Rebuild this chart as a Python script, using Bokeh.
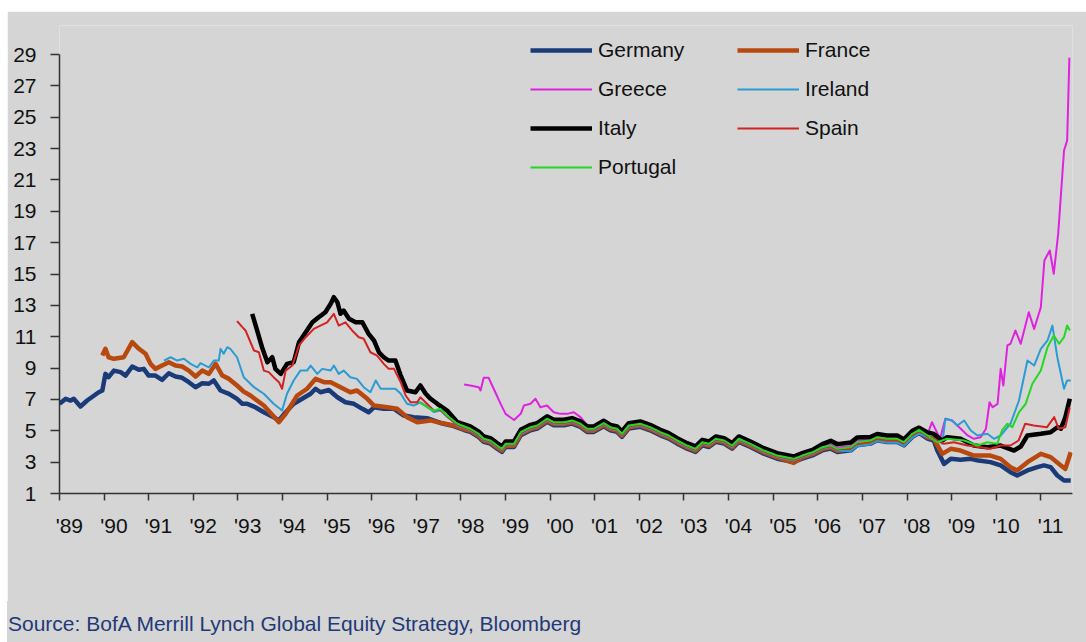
from bokeh.plotting import figure
from bokeh.models import Range1d, FixedTicker, Legend, LegendItem, CustomJSTickFormatter, Div
from bokeh.layouts import column
from bokeh.embed import file_html
from bokeh.resources import INLINE

# ---------------- data ----------------
years = list(range(1989, 2012))
year_labels = ["'89", "'90", "'91", "'92", "'93", "'94", "'95", "'96", "'97", "'98", "'99", "'00",
               "'01", "'02", "'03", "'04", "'05", "'06", "'07", "'08", "'09", "'10", "'11"]
y_ticks = [1, 3, 5, 7, 9, 11, 13, 15, 17, 19, 21, 23, 25, 27, 29]
source_text = "Source: BofA Merrill Lynch Global Equity Strategy, Bloomberg"

core_t = [1998.21, 1998.40, 1998.51, 1998.66, 1998.81, 1998.92, 1999.00, 1999.19, 1999.34, 1999.56,
          1999.71, 1999.93, 2000.08, 2000.31, 2000.49, 2000.68, 2000.83, 2000.98, 2001.20, 2001.35,
          2001.50, 2001.61, 2001.76, 2002.02, 2002.24, 2002.47, 2002.66, 2002.85, 2003.07, 2003.26,
          2003.41, 2003.56, 2003.71, 2003.90, 2004.08, 2004.23, 2004.49, 2004.79, 2005.09, 2005.46,
          2005.65, 2005.88, 2006.10, 2006.29, 2006.44, 2006.74, 2006.88, 2007.18, 2007.33, 2007.55,
          2007.78, 2007.93, 2008.12, 2008.27, 2008.46]

# Germany
germany_t_early = [1989.0, 1989.14, 1989.25, 1989.32, 1989.47, 1989.62, 1989.88, 1989.96, 1990.03, 1990.10,
                   1990.22, 1990.37, 1990.48, 1990.63, 1990.78, 1990.89, 1991.0, 1991.15, 1991.30, 1991.45,
                   1991.60, 1991.75, 1991.90, 1992.05, 1992.20, 1992.35, 1992.46, 1992.61, 1992.80, 1992.98,
                   1993.10, 1993.21, 1993.39, 1993.58, 1993.80, 1993.92, 1994.07, 1994.25, 1994.44, 1994.63,
                   1994.74, 1994.85, 1995.04, 1995.23, 1995.41, 1995.60, 1995.79, 1995.93, 1996.05, 1996.27,
                   1996.50, 1996.72, 1996.94, 1997.24, 1997.54, 1997.84, 1998.07]
germany_v_early = [6.72, 7.04, 6.93, 7.04, 6.55, 6.93, 7.46, 7.57, 8.63, 8.42,
                   8.84, 8.74, 8.52, 9.10, 8.89, 8.95, 8.52, 8.52, 8.25, 8.67,
                   8.46, 8.38, 8.10, 7.78, 8.03, 8.00, 8.21, 7.57, 7.36, 7.04,
                   6.72, 6.72, 6.50, 6.18, 5.87, 5.66, 6.18, 6.72, 7.04, 7.36,
                   7.68, 7.46, 7.60, 7.14, 6.82, 6.72, 6.40, 6.18, 6.50, 6.40,
                   6.40, 5.97, 5.87, 5.80, 5.50, 5.30, 5.05]
germany_v_core = [4.93, 4.60, 4.29, 4.18, 3.86, 3.65, 3.97, 3.97, 4.71, 5.03, 5.14, 5.57, 5.35, 5.35, 5.46,
                  5.25, 4.93, 4.93, 5.29, 5.03, 4.93, 4.61, 5.14, 5.25, 5.03, 4.71, 4.50, 4.18, 3.86, 3.65,
                  4.07, 3.97, 4.29, 4.18, 3.86, 4.29, 3.97, 3.54, 3.22, 3.01, 3.22, 3.43, 3.75, 3.86, 3.65,
                  3.75, 4.07, 4.18, 4.39, 4.29, 4.29, 4.07, 4.61, 4.86, 4.50]
germany_t_late = [2008.60, 2008.68, 2008.83, 2008.98, 2009.20, 2009.43, 2009.60, 2009.87, 2010.10, 2010.32,
                  2010.47, 2010.70, 2010.92, 2011.07, 2011.22, 2011.37, 2011.52, 2011.67]
germany_v_late = [4.38, 3.74, 2.89, 3.21, 3.15, 3.21, 3.10, 3.00, 2.79, 2.36,
                  2.15, 2.47, 2.68, 2.79, 2.68, 2.15, 1.83, 1.83]

# France
france_t_early = [1989.96, 1990.03, 1990.10, 1990.22, 1990.44, 1990.63, 1990.78, 1990.93, 1991.04, 1991.15,
                  1991.30, 1991.45, 1991.60, 1991.75, 1991.90, 1992.05, 1992.20, 1992.35, 1992.50, 1992.65,
                  1992.80, 1992.98, 1993.13, 1993.28, 1993.58, 1993.92, 1994.07, 1994.33, 1994.55, 1994.74,
                  1994.93, 1995.08, 1995.30, 1995.52, 1995.67, 1995.90, 1996.05, 1996.35, 1996.57, 1996.79,
                  1997.02, 1997.32, 1997.47, 1997.84, 1998.07]
france_v_early = [9.80, 10.23, 9.69, 9.59, 9.69, 10.65, 10.23, 9.91, 9.27, 8.95,
                  9.16, 9.37, 9.16, 9.10, 8.84, 8.46, 8.84, 8.63, 9.27, 8.52,
                  8.31, 7.89, 7.50, 7.25, 6.61, 5.55, 6.08, 7.25, 7.68, 8.31,
                  8.10, 8.10, 7.78, 7.46, 7.57, 7.04, 6.61, 6.50, 6.40, 5.87,
                  5.55, 5.66, 5.55, 5.34, 5.10]
france_v_core = [5.01, 4.68, 4.37, 4.26, 3.94, 3.73, 4.05, 4.05, 4.79, 5.11, 5.22, 5.65, 5.43, 5.43, 5.54,
                 5.33, 5.01, 5.01, 5.37, 5.11, 5.01, 4.69, 5.22, 5.33, 5.11, 4.79, 4.58, 4.26, 3.94, 3.73,
                 4.15, 4.05, 4.37, 4.26, 3.94, 4.37, 4.05, 3.62, 3.30, 2.95, 3.30, 3.51, 3.83, 3.94, 3.73,
                 3.83, 4.15, 4.26, 4.47, 4.37, 4.37, 4.15, 4.69, 4.94, 4.58]
france_t_late = [2008.60, 2008.79, 2008.98, 2009.20, 2009.50, 2009.87, 2010.10, 2010.32, 2010.47, 2010.70,
                 2011.00, 2011.22, 2011.45, 2011.55, 2011.67]
france_v_late = [4.49, 3.53, 3.85, 3.74, 3.42, 3.42, 3.21, 2.68, 2.47, 3.00,
                 3.53, 3.32, 2.79, 2.57, 3.63]

# Greece
greece_t_early = [1998.07, 1998.21, 1998.40, 1998.44, 1998.51, 1998.62, 1998.77, 1998.89, 1999.00, 1999.19,
                  1999.34, 1999.41, 1999.56, 1999.67, 1999.78, 1999.93, 2000.08, 2000.23, 2000.38, 2000.53,
                  2000.68, 2000.83]
greece_v_early = [7.95, 7.89, 7.78, 7.57, 8.38, 8.38, 7.46, 6.72, 6.08, 5.69,
                  6.08, 6.61, 6.72, 7.04, 6.50, 6.61, 6.18, 6.08, 6.08, 6.18,
                  5.87, 5.34]
greece_t_core = core_t[17:]
greece_v_core = [5.21, 5.57, 5.31, 5.21, 4.89, 5.42, 5.53, 5.31, 4.99, 4.78, 4.46, 4.14, 3.93, 4.35, 4.25,
                 4.57, 4.46, 4.14, 4.57, 4.25, 3.82, 3.50, 3.29, 3.50, 3.71, 4.03, 4.14, 3.93, 4.03, 4.35,
                 4.46, 4.67, 4.57, 4.57, 4.35, 4.89, 5.14, 4.78]
greece_t_late = [2008.56, 2008.67, 2008.74, 2008.86, 2009.01, 2009.17, 2009.36, 2009.50, 2009.65, 2009.77,
                 2009.85, 2009.92, 2010.03, 2010.10, 2010.16, 2010.25, 2010.32, 2010.43, 2010.55, 2010.73,
                 2010.85, 2011.00, 2011.08, 2011.20, 2011.29, 2011.39, 2011.52, 2011.59, 2011.64]
greece_v_late = [5.55, 4.91, 4.49, 5.77, 5.66, 5.23, 4.70, 4.49, 4.59, 5.13,
                 6.82, 6.50, 6.72, 8.95, 7.89, 10.44, 10.55, 11.40, 10.55, 12.56,
                 11.50, 12.88, 15.86, 16.50, 15.01, 17.60, 22.88, 23.52, 28.80]

# Ireland
ireland_t_early = [1991.34, 1991.49, 1991.64, 1991.79, 1991.94, 1992.09, 1992.16, 1992.35, 1992.46, 1992.57,
                   1992.61, 1992.68, 1992.76, 1992.83, 1992.98, 1993.13, 1993.36, 1993.58, 1993.80, 1993.99,
                   1994.10, 1994.25, 1994.40, 1994.55, 1994.63, 1994.78, 1994.89, 1995.08, 1995.15, 1995.26,
                   1995.37, 1995.52, 1995.67, 1995.82, 1995.97, 1996.09, 1996.20, 1996.35, 1996.53, 1996.65,
                   1996.79, 1996.94, 1997.09, 1997.21, 1997.39, 1997.54, 1997.69, 1997.92]
ireland_v_early = [9.48, 9.69, 9.48, 9.59, 9.27, 9.05, 9.31, 9.05, 9.48, 9.48,
                   10.23, 9.91, 10.33, 10.23, 9.69, 8.42, 7.78, 7.36, 6.72, 6.29,
                   7.36, 8.21, 8.84, 8.84, 9.16, 8.63, 8.95, 8.84, 9.16, 8.63,
                   8.84, 8.42, 8.31, 7.78, 7.46, 8.21, 7.68, 7.68, 7.68, 7.36,
                   6.72, 6.61, 6.82, 6.61, 6.20, 6.30, 5.90, 5.35]
ireland_v_core = [5.03, 4.70, 4.39, 4.28, 3.96, 3.75, 4.07, 4.07, 4.81, 5.13, 5.24, 5.67, 5.45, 5.45, 5.56,
                  5.35, 5.03, 5.03, 5.39, 5.13, 5.03, 4.71, 5.24, 5.35, 5.13, 4.81, 4.60, 4.28, 3.96, 3.75,
                  4.17, 4.07, 4.39, 4.28, 3.96, 4.39, 4.07, 3.64, 3.32, 3.11, 3.32, 3.53, 3.85, 3.96, 3.75,
                  3.70, 4.02, 4.13, 4.34, 4.24, 4.24, 4.02, 4.56, 4.81, 4.60]
ireland_t_late = [2008.60, 2008.68, 2008.79, 2008.86, 2009.01, 2009.13, 2009.28, 2009.43, 2009.58, 2009.80,
                  2009.95, 2010.10, 2010.32, 2010.51, 2010.70, 2010.85, 2011.00, 2011.15, 2011.26, 2011.37,
                  2011.52, 2011.59, 2011.67]
ireland_v_late = [4.45, 4.49, 4.17, 5.77, 5.66, 5.34, 5.66, 5.02, 4.70, 4.81,
                  4.49, 4.70, 5.45, 6.93, 9.48, 9.16, 10.23, 10.76, 11.71, 9.69,
                  7.68, 8.21, 8.21]

# Italy
italy_t_early = [1993.32, 1993.43, 1993.54, 1993.66, 1993.77, 1993.84, 1993.96, 1994.10, 1994.25, 1994.37,
                 1994.52, 1994.67, 1994.81, 1994.96, 1995.08, 1995.15, 1995.23, 1995.30, 1995.37, 1995.49,
                 1995.64, 1995.79, 1995.93, 1996.05, 1996.16, 1996.27, 1996.38, 1996.53, 1996.65, 1996.79,
                 1996.98, 1997.09, 1997.21, 1997.32, 1997.47, 1997.69, 1997.92]
italy_v_early = [12.46, 11.40, 10.33, 9.37, 9.69, 8.95, 8.63, 9.27, 9.37, 10.65,
                 11.29, 11.92, 12.24, 12.56, 13.10, 13.52, 13.20, 12.46, 12.67, 12.14,
                 11.92, 11.92, 11.18, 10.76, 10.01, 9.69, 9.48, 9.48, 8.52, 7.57,
                 7.46, 7.89, 7.36, 7.04, 6.72, 6.29, 5.55]
italy_v_core = [5.28, 4.95, 4.64, 4.53, 4.21, 4.00, 4.32, 4.32, 5.06, 5.38, 5.49, 5.92, 5.70, 5.70, 5.81,
                5.60, 5.28, 5.28, 5.64, 5.38, 5.28, 4.96, 5.49, 5.60, 5.38, 5.06, 4.85, 4.53, 4.21, 4.00,
                4.42, 4.32, 4.64, 4.53, 4.21, 4.64, 4.32, 3.89, 3.57, 3.36, 3.57, 3.78, 4.15, 4.36, 4.15,
                4.25, 4.57, 4.60, 4.80, 4.70, 4.70, 4.45, 5.00, 5.20, 4.90]
italy_t_late = [2008.60, 2008.79, 2008.90, 2009.20, 2009.50, 2009.80, 2010.10, 2010.40, 2010.55, 2010.70,
                2011.00, 2011.22, 2011.37, 2011.45, 2011.55, 2011.65]
italy_v_late = [4.80, 4.38, 4.59, 4.49, 4.06, 3.95, 4.06, 3.74, 4.00, 4.70,
                4.81, 4.91, 5.23, 5.13, 5.87, 7.04]

# Spain
spain_t_early = [1992.98, 1993.10, 1993.17, 1993.36, 1993.47, 1993.58, 1993.69, 1993.80, 1993.92, 1993.99,
                 1994.07, 1994.22, 1994.37, 1994.52, 1994.70, 1994.85, 1995.00, 1995.15, 1995.26, 1995.41,
                 1995.56, 1995.71, 1995.82, 1995.97, 1996.12, 1996.27, 1996.38, 1996.50, 1996.65, 1996.76,
                 1996.87, 1997.02, 1997.09, 1997.21, 1997.39, 1997.54, 1997.69, 1997.92]
spain_v_early = [12.00, 11.61, 11.40, 10.12, 10.01, 8.84, 8.74, 8.42, 8.10, 7.68,
                 8.84, 9.16, 10.44, 10.97, 11.50, 11.71, 11.92, 12.46, 11.71, 11.92,
                 11.40, 10.97, 10.87, 10.01, 9.80, 9.27, 8.95, 8.95, 8.10, 7.25,
                 6.82, 6.82, 7.14, 6.80, 6.30, 6.35, 5.92, 5.40]
spain_v_core = [5.08, 4.75, 4.44, 4.33, 4.01, 3.80, 4.12, 4.12, 4.86, 5.18, 5.29, 5.72, 5.50, 5.50, 5.61,
                5.40, 5.08, 5.08, 5.44, 5.18, 5.08, 4.76, 5.29, 5.40, 5.18, 4.86, 4.65, 4.33, 4.01, 3.80,
                4.22, 4.12, 4.44, 4.33, 4.01, 4.44, 4.12, 3.69, 3.37, 3.16, 3.37, 3.58, 3.90, 4.01, 3.80,
                3.90, 4.22, 4.33, 4.54, 4.44, 4.44, 4.22, 4.76, 5.01, 4.65]
spain_t_late = [2008.60, 2008.83, 2009.05, 2009.35, 2009.65, 2009.87, 2010.10, 2010.32, 2010.50, 2010.65,
                2010.84, 2011.14, 2011.30, 2011.40, 2011.55, 2011.65]
spain_v_late = [4.49, 4.17, 4.27, 4.06, 3.95, 3.85, 4.06, 4.06, 4.38, 5.45,
                5.34, 5.23, 5.87, 5.13, 5.23, 6.50]

# Portugal
portugal_t_early = [1997.06, 1997.24, 1997.39, 1997.54, 1997.69, 1997.92]
portugal_v_early = [6.82, 6.50, 6.29, 6.40, 5.97, 5.45]
portugal_v_core = [5.13, 4.80, 4.49, 4.38, 4.06, 3.85, 4.17, 4.17, 4.91, 5.23, 5.34, 5.77, 5.55, 5.55, 5.66,
                   5.45, 5.13, 5.13, 5.49, 5.23, 5.13, 4.81, 5.34, 5.45, 5.23, 4.91, 4.70, 4.38, 4.06, 3.85,
                   4.27, 4.17, 4.49, 4.38, 4.06, 4.49, 4.17, 3.74, 3.42, 3.21, 3.42, 3.63, 3.95, 4.06, 3.85,
                   3.95, 4.27, 4.38, 4.59, 4.49, 4.49, 4.27, 4.81, 5.06, 4.70]
portugal_t_late = [2008.68, 2008.90, 2009.28, 2009.58, 2009.80, 2010.02, 2010.13, 2010.25, 2010.36, 2010.51,
                   2010.66, 2010.81, 2011.00, 2011.15, 2011.29, 2011.41, 2011.52, 2011.59, 2011.65]
portugal_v_late = [4.27, 4.49, 4.38, 4.06, 4.27, 4.17, 5.02, 5.45, 5.23, 6.18,
                   6.72, 8.00, 8.84, 10.33, 11.08, 10.55, 10.97, 11.71, 11.40]

series = [
    ("Germany", germany_t_early + core_t + germany_t_late, germany_v_early + germany_v_core + germany_v_late, "#1b3a78", 4.5),
    ("France", france_t_early + core_t + france_t_late, france_v_early + france_v_core + france_v_late, "#b7480f", 4.5),
    ("Greece", greece_t_early + greece_t_core + greece_t_late, greece_v_early + greece_v_core + greece_v_late, "#e022e0", 2),
    ("Ireland", ireland_t_early + core_t + ireland_t_late, ireland_v_early + ireland_v_core + ireland_v_late, "#2b9bd3", 2),
    ("Italy", italy_t_early + core_t + italy_t_late, italy_v_early + italy_v_core + italy_v_late, "#000000", 4.5),
    ("Spain", spain_t_early + core_t + spain_t_late, spain_v_early + spain_v_core + spain_v_late, "#d42222", 2),
    ("Portugal", portugal_t_early + core_t + portugal_t_late, portugal_v_early + portugal_v_core + portugal_v_late, "#22d822", 2),
]

BG = "#d5d5d5"
FONT = "Liberation Sans"

p = figure(width=1079, height=590, margin=(11, 0, 0, 7),
           x_range=Range1d(1989.0, 2011.71), y_range=Range1d(1, 30.85),
           output_backend="svg", toolbar_location=None,
           background_fill_color=BG, border_fill_color=BG,
           min_border_left=52, min_border_right=14, min_border_top=14, min_border_bottom=108)
p.outline_line_color = None
p.xgrid.visible = False
p.ygrid.visible = False

renderers = {}
for name, t, v, color, w in series:
    renderers[name] = p.line(t, v, line_color=color, line_width=w, line_join="round")

# y axis
ya = p.yaxis[0]
ya.ticker = FixedTicker(ticks=y_ticks, minor_ticks=[])
ya.bounds = (1, 29)
ya.axis_line_color = "#333333"
ya.axis_line_width = 1.5
ya.major_tick_line_color = "#333333"
ya.major_tick_line_width = 1.5
ya.major_tick_out = 9
ya.major_tick_in = 0
ya.minor_tick_line_color = None
ya.major_label_standoff = 14
ya.major_label_text_font = FONT
ya.major_label_text_font_size = "21px"
ya.major_label_text_color = "#111111"

# x axis: year boundaries as minor ticks, labels slightly to the right
xa = p.xaxis[0]
label_pos = [y + 0.22 for y in years]
xa.ticker = FixedTicker(ticks=label_pos, minor_ticks=years)
xa.formatter = CustomJSTickFormatter(args=dict(labels=year_labels, first=years[0]),
                                     code="return labels[Math.floor(tick) - first];")
xa.axis_line_color = "#333333"
xa.axis_line_width = 1.5
xa.major_tick_line_color = None
xa.major_tick_out = 0
xa.major_tick_in = 0
xa.minor_tick_line_color = "#333333"
xa.minor_tick_line_width = 1.5
xa.minor_tick_out = 7
xa.minor_tick_in = 0
xa.major_label_standoff = 13
xa.major_label_text_font = FONT
xa.major_label_text_font_size = "21px"
xa.major_label_text_color = "#111111"

# legends (two columns)
def make_legend(names, loc):
    return Legend(items=[LegendItem(label=n, renderers=[renderers[n]]) for n in names],
                  location=loc, orientation="vertical",
                  background_fill_alpha=0, border_line_color=None,
                  padding=0, margin=0, spacing=13,
                  glyph_width=62, glyph_height=26, label_height=26, label_standoff=6,
                  label_text_font=FONT, label_text_font_size="21px", label_text_color="#111111")

p.add_layout(make_legend(["Germany", "Greece", "Italy", "Portugal"], (471, 313)))
p.add_layout(make_legend(["France", "Ireland", "Spain"], (678, 352)))

source = Div(text=('<div style="font-family:\'Liberation Sans\',Arial,sans-serif;font-size:21px;'
                   'color:#1f3a78;line-height:24px;padding:11px 0 0 1px;white-space:nowrap;">'
                   + source_text + '</div>'),
             width=1079, height=41, margin=(0, 0, 0, 7),
             styles={"background-color": BG})

layout = column(p, source, spacing=0)
open("out.html", "w").write(file_html(layout, INLINE))
